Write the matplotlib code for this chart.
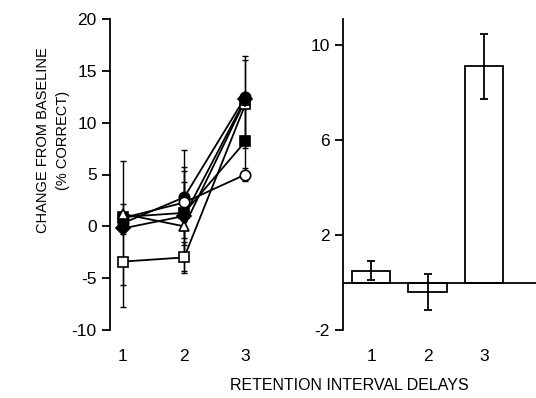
import numpy as np
import matplotlib.pyplot as plt

plt.rcParams['font.family'] = ['Liberation Sans', 'DejaVu Sans']

# dados do painel esquerdo (cada grupo) #
delays = [1, 2, 3]
fill_circ   = [0.3, 2.8, 12.5]
open_circ   = [0.8, 2.3, 5.0]
fill_sq     = [0.9, 1.3, 8.2]
open_sq     = [-3.4, -3.0, 11.8]
open_tri    = [1.2, 0.0, 12.2]
fill_diam   = [-0.2, 1.0, 12.3]
err_fill_circ = [6.0, 4.6, 3.9]
err_open_circ = [0.5, 3.4, 0.6]
err_fill_sq   = [0.5, 4.0, 3.2]
err_open_sq   = [4.4, 1.5, 4.2]
err_open_tri  = [1.0, 4.3, 0.5]
err_fill_diam = [0.5, 0.5, 0.5]

# dados do painel direito (media) #
bar_vals = [0.5, -0.4, 9.1]
bar_err  = [0.4, 0.75, 1.35]

fig = plt.figure(figsize=(5.36, 3.98), dpi=100)

ax1 = fig.add_axes([110/536, 68/398, 160/536, 311/398])
series = [
    (fill_circ, err_fill_circ, 'o', 'black'),
    (open_circ, err_open_circ, 'o', 'white'),
    (fill_sq, err_fill_sq, 's', 'black'),
    (open_sq, err_open_sq, 's', 'white'),
    (open_tri, err_open_tri, '^', 'white'),
    (fill_diam, err_fill_diam, 'D', 'black'),
]
for y, e, m, fc in series:
    ax1.errorbar(delays, y, yerr=e, fmt='-', color='black', lw=1.3,
                 elinewidth=1.0, capsize=2.5, capthick=1.0, zorder=1)
for y, e, m, fc in series:
    ax1.plot(delays, y, linestyle='none', marker=m, markersize=7.5,
             markerfacecolor=fc, markeredgecolor='black', markeredgewidth=1.2, zorder=3)

ax1.set_xlim(0.79, 3.4)
ax1.set_ylim(-10, 20)
ax1.set_yticks([-10, -5, 0, 5, 10, 15, 20])
ax1.set_yticklabels(['-10', '-5', '0', '5', '10', '15', '20'])
ax1.set_xticks(delays)
ax1.spines['top'].set_visible(False)
ax1.spines['right'].set_visible(False)
ax1.spines['bottom'].set_visible(False)
ax1.spines['left'].set_linewidth(1.3)
ax1.tick_params(axis='y', direction='out', length=6, width=1.3, labelsize=12.5)
ax1.tick_params(axis='x', length=0, labelsize=12.5, pad=14)
ax1.set_ylabel("CHANGE FROM BASELINE\n(% CORRECT)", fontsize=10.5, linespacing=1.5)
ax1.yaxis.set_label_coords(-0.25, 0.61)

ax2 = fig.add_axes([343/536, 68/398, 193/536, 311/398])
ax2.bar(delays, bar_vals, width=0.68, color='white', edgecolor='black', linewidth=1.3,
        yerr=bar_err, error_kw=dict(elinewidth=1.3, capsize=3, capthick=1.3, ecolor='black'))
ax2.axhline(0, color='black', lw=1.3)
ax2.set_xlim(0.5, 3.92)
ax2.set_ylim(-2, 11.1)
ax2.set_yticks([-2, 2, 6, 10])
ax2.set_yticklabels(['-2', '2', '6', '10'])
ax2.set_xticks(delays)
ax2.spines['top'].set_visible(False)
ax2.spines['right'].set_visible(False)
ax2.spines['bottom'].set_visible(False)
ax2.spines['left'].set_linewidth(1.3)
ax2.tick_params(axis='y', direction='out', length=6, width=1.3, labelsize=12.5)
ax2.tick_params(axis='x', length=0, labelsize=12.5, pad=14)

fig.text(349/536, 1 - 385/398, "RETENTION INTERVAL DELAYS", ha='center', va='center', fontsize=11.5)

plt.savefig("out.png", dpi=100)
